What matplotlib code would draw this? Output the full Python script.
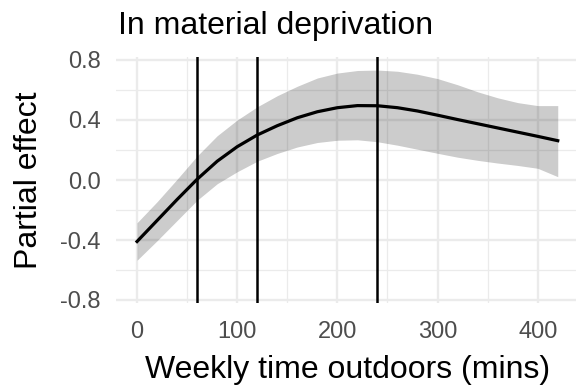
import matplotlib
matplotlib.use("Agg")
import matplotlib.pyplot as plt
from matplotlib.ticker import MultipleLocator

plt.rcParams["font.family"] = ["Liberation Sans", "DejaVu Sans"]

# Smooth term for weekly time outdoors (minutes) and its confidence band
minutes = [0, 20, 40, 60, 80, 100, 120, 140, 160, 180, 200,
           220, 240, 260, 280, 300, 320, 340, 360, 380, 400, 420]
effect = [-0.41, -0.27, -0.13, 0.005, 0.125, 0.222, 0.30, 0.362, 0.415, 0.455, 0.482,
          0.496, 0.495, 0.482, 0.46, 0.432, 0.403, 0.375, 0.347, 0.319, 0.291, 0.262]
upper = [-0.285, -0.145, 0.005, 0.16, 0.295, 0.40, 0.488, 0.562, 0.625, 0.68, 0.713,
         0.73, 0.733, 0.725, 0.705, 0.676, 0.635, 0.588, 0.548, 0.516, 0.496, 0.496]
lower = [-0.535, -0.405, -0.27, -0.135, -0.025, 0.055, 0.125, 0.177, 0.22, 0.25, 0.265,
         0.268, 0.255, 0.232, 0.205, 0.178, 0.152, 0.131, 0.113, 0.097, 0.078, 0.022]

# Reference durations marked with vertical lines
marks = [60, 120, 240]

title = "In material deprivation"
xlabel = "Weekly time outdoors (mins)"
ylabel = "Partial effect"
yticks = [-0.8, -0.4, 0.0, 0.4, 0.8]
xticks = [0, 100, 200, 300, 400]

W, H = 576, 385
fig = plt.figure(figsize=(W / 100, H / 100), dpi=100)
left, right, top, bottom = 116, 578.8, 57, 303
ax = fig.add_axes([left / W, 1 - bottom / H, (right - left) / W, (bottom - top) / H])

ax.set_xlim(-21, 441)
ax.set_ylim(-0.82, 0.82)

grid_col = "#EBEBEB"
ax.set_xticks(xticks)
ax.set_yticks(yticks)
ax.set_yticklabels([f"{v:.1f}" for v in yticks])
ax.xaxis.set_minor_locator(MultipleLocator(50))
ax.yaxis.set_minor_locator(MultipleLocator(0.2))
ax.grid(which="major", color=grid_col, linewidth=1.7, zorder=0)
ax.grid(which="minor", color=grid_col, linewidth=0.9, zorder=0)
ax.set_axisbelow(True)
for s in ax.spines.values():
    s.set_visible(False)
ax.tick_params(which="both", length=0)
ax.tick_params(axis="x", labelsize=17, labelcolor="#4D4D4D", pad=13)
ax.tick_params(axis="y", labelsize=17, labelcolor="#4D4D4D", pad=11)

ax.fill_between(minutes, lower, upper, color="black", alpha=0.2, linewidth=0, zorder=2)
ax.plot(minutes, effect, color="black", linewidth=2.3, zorder=3,
        solid_joinstyle="round")
for m in marks:
    ax.axvline(m, color="black", linewidth=1.8, zorder=4)

fig.text(118 / W, 1 - 34 / H, title, fontsize=23, ha="left", va="baseline")
fig.text((left + right) / 2 / W, 1 - 378 / H, xlabel, fontsize=23, ha="center", va="baseline")
fig.text(37 / W, 1 - 180 / H, ylabel, fontsize=23, ha="center", va="baseline",
         rotation=90, rotation_mode="anchor")

fig.savefig("out.png", dpi=100)
